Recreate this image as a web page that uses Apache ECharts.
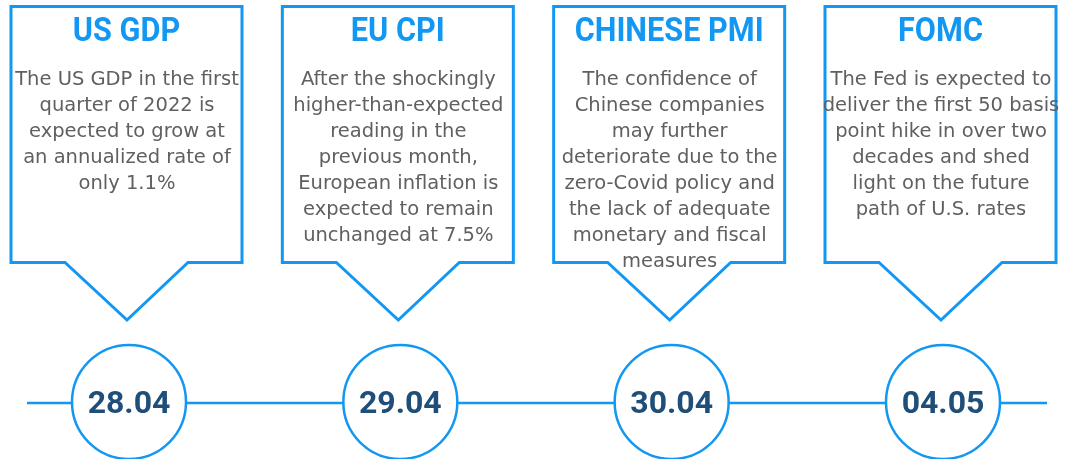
<!DOCTYPE html>
<html>
<head>
<meta charset="utf-8">
<script src="https://cdn.jsdelivr.net/npm/echarts@6/dist/echarts.min.js"></script>
<style>
	html, body { margin: 0; padding: 0; background: #fff; }
	#chart { width: 1065px; height: 459px; }
</style>
</head>
<body>
<div id="chart"></div>
<script>
	// event titles, dates and notes, left to right
	var titles = ['US GDP', 'EU CPI', 'CHINESE PMI', 'FOMC'];
	var dates = ['28.04', '29.04', '30.04', '04.05'];
	var notes = [
		'The US GDP in the first\nquarter of 2022 is\nexpected to grow at\nan annualized rate of\nonly 1.1%',
		'After the shockingly\nhigher-than-expected\nreading in the\nprevious month,\nEuropean inflation is\nexpected to remain\nunchanged at 7.5%',
		'The confidence of\nChinese companies\nmay further\ndeteriorate due to the\nzero-Covid policy and\nthe lack of adequate\nmonetary and fiscal\nmeasures',
		'The Fed is expected to\ndeliver the first 50 basis\npoint hike in over two\ndecades and shed\nlight on the future\npath of U.S. rates'
	];

	var blue = '#1298F2';
	var navy = '#1F4E79';
	var grey = '#606060';

	var myChart = echarts.init(document.getElementById('chart'));

	// y axis runs 0..459 top-down so offsets read like the picture
	function renderRule(params, api) {
		var a = api.coord([0, 403]);
		var b = api.coord([titles.length - 1, 403]);
		return {
			type: 'line',
			shape: { x1: a[0] - 100, y1: a[1], x2: b[0] + 106, y2: b[1] },
			style: { stroke: blue, lineWidth: 2.5 }
		};
	}

	function renderEvent(params, api) {
		var i = api.value(0);
		var cx = api.coord([i, 0])[0];
		var Y = function (v) { return api.coord([i, v])[1]; };
		var top = Y(6.5), bot = Y(262.5);
		return {
			type: 'group',
			children: [{
				type: 'polygon',
				shape: {
					points: [
						[cx - 116, top], [cx + 115, top], [cx + 115, bot],
						[cx + 61, bot], [cx, Y(320)], [cx - 62, bot], [cx - 116, bot]
					]
				},
				style: { fill: '#fff', stroke: blue, lineWidth: 3, lineJoin: 'miter' }
			}, {
				// title font is a narrow bold face, squeeze Roboto a little
				type: 'text',
				x: cx - 0.5,
				y: Y(32.5),
				scaleX: 0.93,
				style: {
					x: 0, y: 0, text: titles[i],
					align: 'center', verticalAlign: 'middle',
					fill: blue, fontSize: 33, fontWeight: 'bold', fontFamily: 'Roboto'
				}
			}, {
				type: 'text',
				style: {
					x: cx, y: Y(67), text: notes[i],
					align: 'center', verticalAlign: 'top', lineHeight: 26,
					fill: grey, fontSize: 19.5, fontFamily: 'DejaVu Sans'
				}
			}, {
				type: 'circle',
				shape: { cx: cx + 2, cy: Y(402), r: 57 },
				style: { fill: '#fff', stroke: blue, lineWidth: 2.5 }
			}, {
				type: 'text',
				style: {
					x: cx + 2, y: Y(405), text: dates[i],
					align: 'center', verticalAlign: 'middle',
					fill: navy, fontSize: 32, fontWeight: 'bold', fontFamily: 'Roboto'
				}
			}]
		};
	}

	myChart.setOption({
		animation: false,
		grid: { left: 127, right: 124, top: 0, bottom: 0 },
		xAxis: {
			type: 'category',
			data: titles,
			boundaryGap: false,
			show: false
		},
		yAxis: {
			type: 'value',
			min: 0,
			max: 459,
			inverse: true,
			show: false
		},
		series: [{
			type: 'custom',
			silent: true,
			clip: false,
			renderItem: renderRule,
			data: [[0]]
		}, {
			type: 'custom',
			silent: true,
			clip: false,
			renderItem: renderEvent,
			encode: { x: 0 },
			data: titles.map(function (t, i) { return [i]; })
		}]
	});
</script>
</body>
</html>
